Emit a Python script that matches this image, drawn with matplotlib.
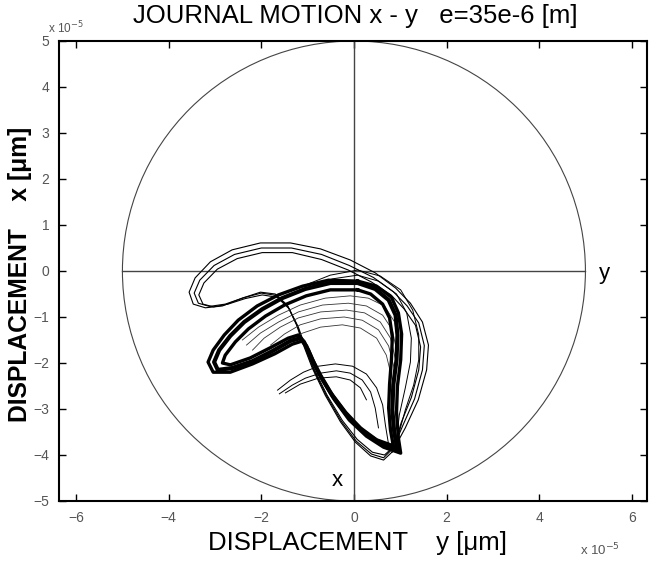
import matplotlib
matplotlib.use("Agg")
import matplotlib.pyplot as plt
from matplotlib.patches import Circle

plt.rcParams['font.family'] = ['Liberation Sans', 'DejaVu Sans']

# ---------------------- Data (units of 1e-5 m) ----------------------
clearance = 5.0

# outer transient orbits (upper-left lobe)
orbit_a1_x = [0.83, 1.11, 1.39, 1.57, 1.61, 1.48, 1.22, 0.90, 0.46, -0.08, -0.72, -1.37, -2.02, -2.63,
              -3.10, -3.43, -3.56, -3.47, -3.21, -2.84, -2.41, -2.02, -1.70, -1.44, -1.24, -1.09, -0.90,
              -0.62, -0.29, 0.03, 0.36, 0.64, 0.83]
orbit_a1_y = [-3.93, -3.41, -2.80, -2.15, -1.61, -1.11, -0.70, -0.37, -0.04, 0.24, 0.48, 0.61, 0.61, 0.46,
              0.20, -0.15, -0.46, -0.72, -0.80, -0.76, -0.59, -0.46, -0.50, -0.74, -1.17, -1.61, -2.11,
              -2.70, -3.28, -3.72, -4.02, -4.11, -3.93]
orbit_a2_x = [0.85, 1.06, 1.31, 1.48, 1.52, 1.40, 1.15, 0.85, 0.42, -0.10, -0.70, -1.35, -2.00, -2.58,
              -3.02, -3.33, -3.45, -3.36, -3.12, -2.78, -2.38, -2.00, -1.68, -1.42, -1.22, -1.07, -0.88,
              -0.60, -0.27, 0.05, 0.38, 0.64, 0.85]
orbit_a2_y = [-3.85, -3.35, -2.78, -2.15, -1.62, -1.13, -0.76, -0.45, -0.14, 0.12, 0.36, 0.50, 0.50, 0.36,
              0.12, -0.20, -0.48, -0.70, -0.77, -0.72, -0.58, -0.48, -0.53, -0.78, -1.20, -1.63, -2.12,
              -2.70, -3.27, -3.70, -3.98, -4.06, -3.85]
orbit_a3_x = [0.88, 1.02, 1.24, 1.40, 1.44, 1.33, 1.08, 0.80, 0.38, -0.12, -0.70, -1.33, -1.98, -2.52,
              -2.95, -3.24, -3.35, -3.26, -3.03, -2.72, -2.35, -1.98, -1.66, -1.40, -1.20, -1.05, -0.86,
              -0.58, -0.25, 0.07, 0.40, 0.66, 0.88]
orbit_a3_y = [-3.80, -3.30, -2.75, -2.15, -1.65, -1.18, -0.82, -0.52, -0.24, 0.02, 0.25, 0.40, 0.40, 0.27,
              0.04, -0.26, -0.52, -0.72, -0.78, -0.72, -0.60, -0.52, -0.57, -0.82, -1.22, -1.65, -2.13,
              -2.70, -3.25, -3.66, -3.94, -4.00, -3.80]

# intermediate orbits (right side)
orbit_m1_x = [-1.16, -0.51, 0.08, 0.57, 1.01, 1.27, 1.40, 1.40, 1.29, 1.11, 0.96, 0.89]
orbit_m1_y = [-0.35, -0.09, 0.02, -0.11, -0.41, -0.85, -1.39, -1.93, -2.48, -3.02, -3.57, -3.89]
orbit_m2_x = [-1.05, -0.46, 0.08, 0.53, 0.92, 1.14, 1.24, 1.22, 1.11, 0.98, 0.92]
orbit_m2_y = [-0.39, -0.17, -0.09, -0.22, -0.50, -0.91, -1.46, -1.98, -2.54, -3.13, -3.67]

# final (settled) orbits
orbit_f1_x = [0.08, -0.51, -1.05, -1.55, -1.98, -2.37, -2.67, -2.91, -3.02, -2.94, -2.63, -2.19, -1.76,
              -1.37, -1.16, -1.03, -0.90, -0.72, -0.46, -0.14, 0.21, 0.57, 0.94, 0.87, 0.83, 0.85, 0.92,
              0.94, 0.90, 0.75, 0.46, 0.08]
orbit_f1_y = [-0.26, -0.26, -0.39, -0.59, -0.83, -1.11, -1.41, -1.72, -1.98, -2.15, -2.11, -1.96, -1.74,
              -1.52, -1.46, -1.63, -1.93, -2.28, -2.72, -3.15, -3.50, -3.74, -3.89, -3.50, -3.02, -2.48,
              -1.93, -1.39, -0.96, -0.63, -0.39, -0.26]
orbit_f2_x = [0.08, -0.51, -1.03, -1.50, -1.91, -2.28, -2.56, -2.78, -2.84, -2.67, -2.24, -1.81, -1.42,
              -1.20, -1.07, -0.94, -0.77, -0.51, -0.18, 0.14, 0.49, 0.85, 0.79, 0.75, 0.77, 0.81, 0.83,
              0.77, 0.62, 0.36, 0.08]
orbit_f2_y = [-0.41, -0.41, -0.54, -0.74, -0.98, -1.26, -1.54, -1.83, -2.00, -2.04, -1.89, -1.67, -1.46,
              -1.39, -1.54, -1.85, -2.20, -2.63, -3.07, -3.41, -3.67, -3.80, -3.46, -2.98, -2.46, -1.93,
              -1.43, -1.02, -0.72, -0.50, -0.41]
orbit_f3_x = [0.08, -0.55, -1.11, -1.63, -2.09, -2.50, -2.80, -3.04, -3.15, -3.04, -2.67, -2.19, -1.71,
              -1.33, -1.11, -0.98, -0.85, -0.68, -0.42, -0.10, 0.27, 0.64, 1.01, 0.96, 0.92, 0.94, 1.01,
              1.03, 0.96, 0.81, 0.49, 0.08]
orbit_f3_y = [-0.22, -0.20, -0.33, -0.52, -0.76, -1.07, -1.39, -1.72, -1.98, -2.20, -2.20, -2.02, -1.80,
              -1.59, -1.52, -1.72, -2.02, -2.37, -2.80, -3.24, -3.59, -3.83, -3.96, -3.63, -3.07, -2.50,
              -1.93, -1.37, -0.91, -0.57, -0.33, -0.22]

# fan of upper arcs while settling
fan_x = [
    [0.94, 0.88, 0.66, 0.31, -0.08, -0.62, -1.16, -1.63, -2.06, -2.41],
    [0.92, 0.83, 0.62, 0.27, -0.12, -0.68, -1.20, -1.63, -2.02, -2.32],
    [0.90, 0.79, 0.57, 0.23, -0.16, -0.72, -1.20, -1.59, -1.94, -2.19],
    [0.88, 0.75, 0.53, 0.18, -0.21, -0.72, -1.16, -1.50, -1.80],
    [0.83, 0.70, 0.49, 0.14, -0.25, -0.72, -1.11, -1.37],
]
fan_y = [
    [-1.50, -1.11, -0.76, -0.59, -0.54, -0.59, -0.74, -0.96, -1.22, -1.50],
    [-1.72, -1.28, -0.96, -0.76, -0.70, -0.74, -0.89, -1.11, -1.35, -1.61],
    [-1.93, -1.46, -1.11, -0.91, -0.85, -0.89, -1.02, -1.22, -1.46, -1.72],
    [-2.15, -1.63, -1.28, -1.07, -1.00, -1.04, -1.17, -1.37, -1.61],
    [-2.37, -1.83, -1.46, -1.24, -1.17, -1.22, -1.35, -1.50],
]

# start-up arcs in the middle
start_x = [
    [-1.65, -1.37, -1.09, -0.77, -0.40, -0.03, 0.27, 0.49, 0.62, 0.68, 0.75],
    [-1.61, -1.33, -1.05, -0.72, -0.38, -0.08, 0.18, 0.36, 0.46, 0.53],
    [-1.48, -1.16, -0.77, -0.38, -0.08, 0.14, 0.27],
]
start_y = [
    [-2.59, -2.37, -2.20, -2.07, -2.02, -2.07, -2.24, -2.54, -2.91, -3.35, -3.78],
    [-2.67, -2.48, -2.33, -2.22, -2.17, -2.22, -2.37, -2.63, -2.98, -3.41],
    [-2.65, -2.46, -2.33, -2.30, -2.37, -2.54, -2.80],
]

x_ticks = [-6, -4, -2, 0, 2, 4, 6]
y_ticks = [-5, -4, -3, -2, -1, 0, 1, 2, 3, 4, 5]

# ---------------------- Plot ----------------------
fig = plt.figure(figsize=(6.51, 5.63), dpi=100)
ax = fig.add_axes([59 / 651, 62 / 563, 588 / 651, 460 / 563])

ax.add_patch(Circle((0, 0), clearance, fill=False, color='#444444', lw=0.8))
ax.plot([-clearance, clearance], [0, 0], color='#444444', lw=1.0)
ax.plot([0, 0], [-clearance, clearance], color='#444444', lw=1.0)

for ox, oy in [(orbit_a1_x, orbit_a1_y), (orbit_a2_x, orbit_a2_y), (orbit_a3_x, orbit_a3_y)]:
    ax.plot(ox, oy, color='black', lw=0.8)
for ox, oy in [(orbit_m1_x, orbit_m1_y), (orbit_m2_x, orbit_m2_y)]:
    ax.plot(ox, oy, color='black', lw=0.7)
for ox, oy in zip(fan_x, fan_y):
    ax.plot(ox, oy, color='#333333', lw=0.6)
for ox, oy in zip(start_x, start_y):
    ax.plot(ox, oy, color='black', lw=0.7)
ax.plot(orbit_f3_x, orbit_f3_y, color='black', lw=2.4)
ax.plot(orbit_f2_x, orbit_f2_y, color='black', lw=2.4)
ax.plot(orbit_f1_x, orbit_f1_y, color='black', lw=3.0)

ax.text(5.3, -0.05, 'y', fontsize=16, ha='left', va='center')
ax.text(-0.35, -4.55, 'x', fontsize=16, ha='center', va='center')

ax.set_xlim(-6.37, 6.33)
ax.set_ylim(-5, 5)
ax.set_xticks(x_ticks)
ax.set_yticks(y_ticks)
ax.tick_params(direction='in', length=5, width=1, top=True, right=True,
               labelsize=10, labelcolor='#555555', pad=7)
for sp in ax.spines.values():
    sp.set_linewidth(1.5)

fig.text(355 / 651, 1 - 16 / 563, 'JOURNAL MOTION x - y   e=35e-6 [m]', fontsize=18.5,
         ha='center', va='center')
fig.text(357 / 651, 1 - 543 / 563, 'DISPLACEMENT    y [\u03bcm]', fontsize=18.5,
         ha='center', va='center')
fig.text(20 / 651, 1 - 274 / 563, 'DISPLACEMENT    x [\u03bcm]', fontsize=17.7, fontweight='bold',
         rotation=90, ha='center', va='center')
fig.text(48 / 651, 1 - 28 / 563, r'x 10$^{-5}$', fontsize=8.5, color='#555555', ha='left', va='center')
fig.text(580 / 651, 1 - 550 / 563, r'x 10$^{-5}$', fontsize=9.5, color='#555555', ha='left', va='center')

fig.savefig('out.png', dpi=100)
